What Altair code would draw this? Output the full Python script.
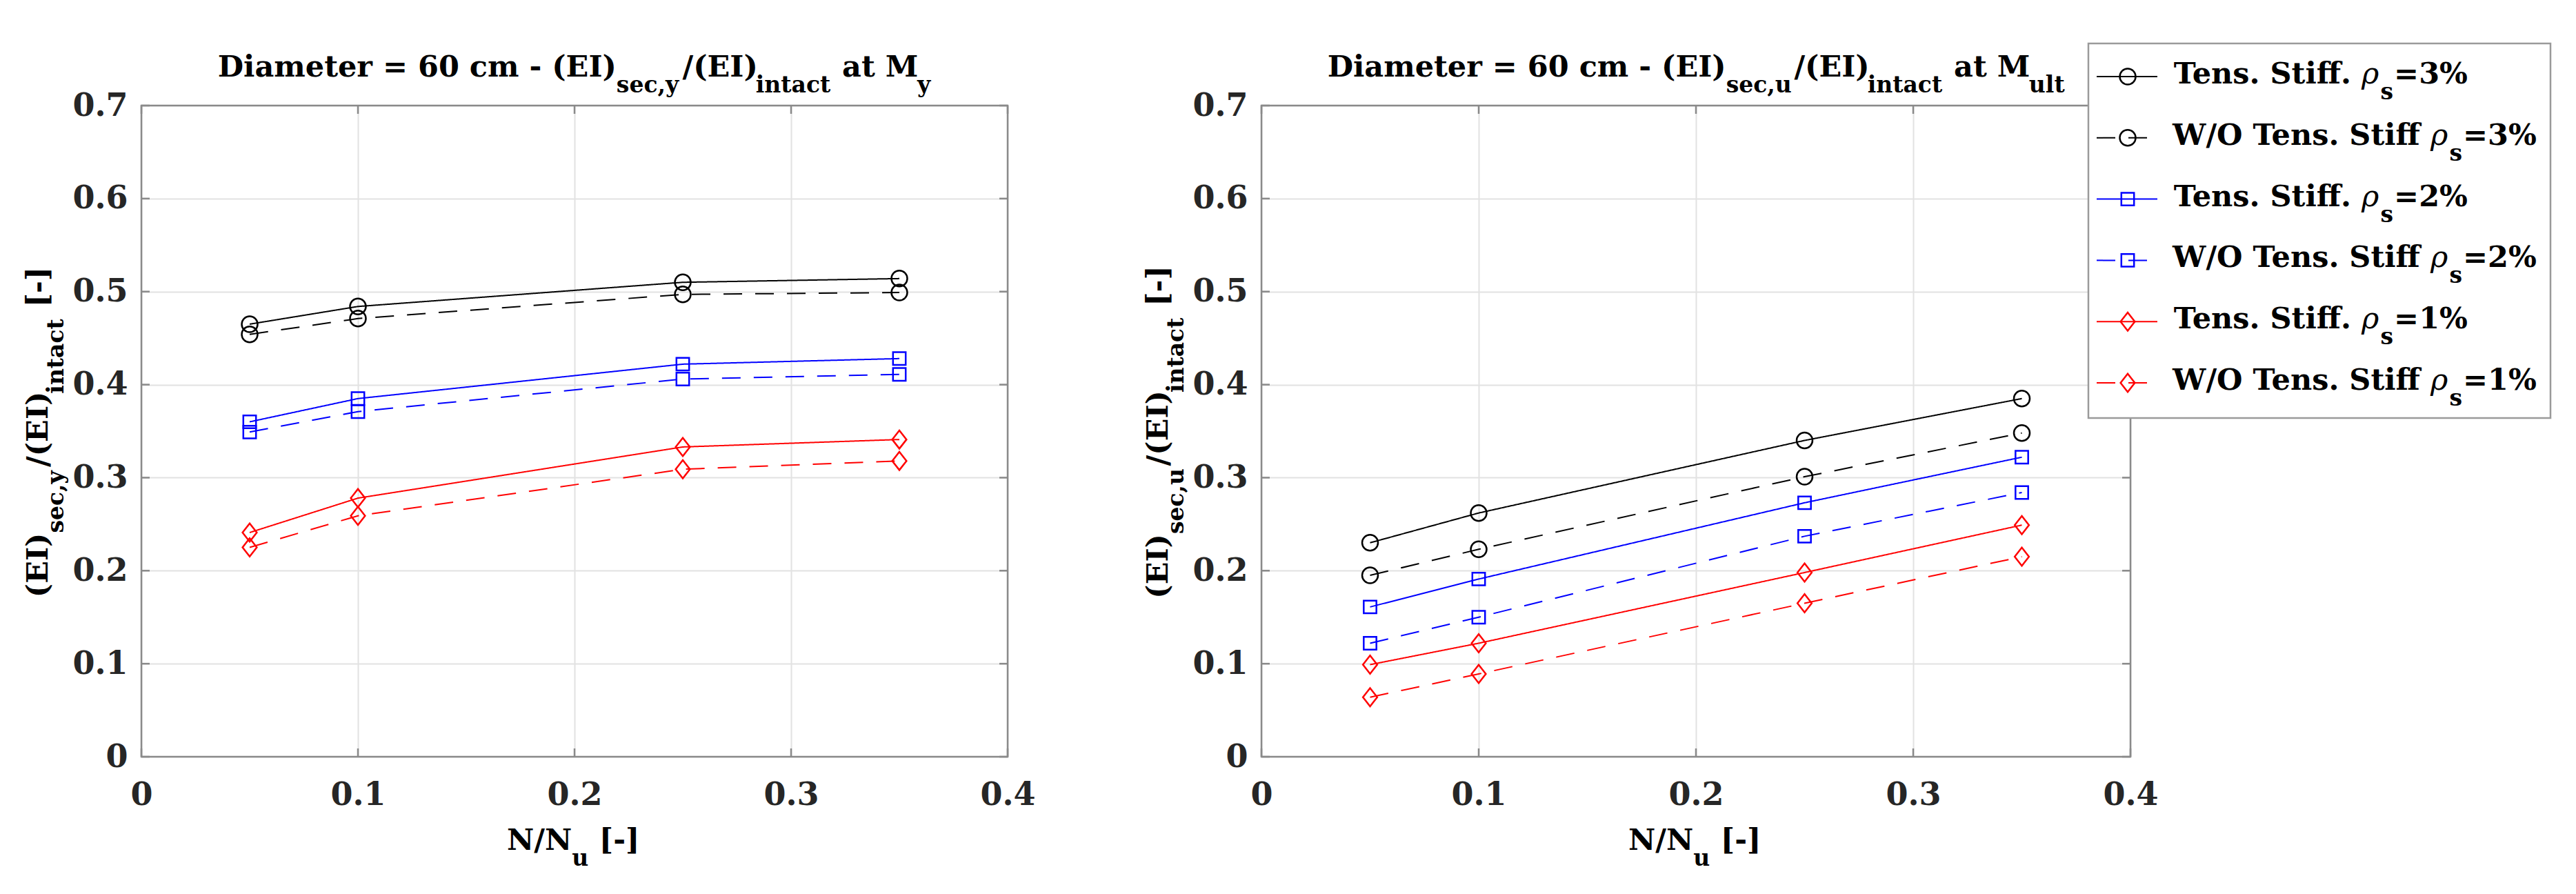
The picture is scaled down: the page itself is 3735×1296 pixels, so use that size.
import altair as alt
import pandas as pd

# ---------------- data ----------------
n_nu = [0.05, 0.10, 0.25, 0.35]

# left panel: (EI)sec,y/(EI)intact at My
my_ts_3 = [0.465, 0.484, 0.510, 0.514]
my_wo_3 = [0.454, 0.471, 0.497, 0.499]
my_ts_2 = [0.360, 0.385, 0.422, 0.428]
my_wo_2 = [0.349, 0.371, 0.406, 0.411]
my_ts_1 = [0.241, 0.278, 0.333, 0.341]
my_wo_1 = [0.225, 0.259, 0.309, 0.318]

# right panel: (EI)sec,u/(EI)intact at Mult
mu_ts_3 = [0.230, 0.262, 0.340, 0.385]
mu_wo_3 = [0.195, 0.223, 0.301, 0.348]
mu_ts_2 = [0.161, 0.191, 0.273, 0.322]
mu_wo_2 = [0.122, 0.150, 0.237, 0.284]
mu_ts_1 = [0.099, 0.122, 0.198, 0.249]
mu_wo_1 = [0.064, 0.089, 0.165, 0.215]

series_keys = ["ts3", "wo3", "ts2", "wo2", "ts1", "wo1"]
legend_prefix = ["Tens. Stiff. ", "W/O Tens. Stiff ", "Tens. Stiff. ",
                 "W/O Tens. Stiff ", "Tens. Stiff. ", "W/O Tens. Stiff "]
legend_pct = ["=3%", "=3%", "=2%", "=2%", "=1%", "=1%"]

x_ticks = [0, 0.1, 0.2, 0.3, 0.4]
y_ticks = [0, 0.1, 0.2, 0.3, 0.4, 0.5, 0.6, 0.7]

# ---------------- styles ----------------
colors = ["#000000", "#000000", "#0000ff", "#0000ff", "#ff0000", "#ff0000"]
SOLID = [1, 0]
DASH = [27, 19]
dashes = [SOLID, DASH, SOLID, DASH, SOLID, DASH]
SQUARE = "M-0.8,-0.8H0.8V0.8H-0.8Z"
DIAMOND = "M0,-1.15L0.9,0L0,1.15L-0.9,0Z"
shapes = ["circle", "circle", SQUARE, SQUARE, DIAMOND, DIAMOND]

FONT = "DejaVu Serif"
MAIN = 43
SUB = 33
SHIFT = 23
TICKFONT = 46
FRAME = "#8a8a8a"
H = 944

# approximate DejaVu Serif Bold advance widths (per 1000 em)
WID = {' ': 348, '%': 1002, '(': 473, ')': 473, ',': 380, '-': 415, '.': 380,
       '/': 365, '=': 838, '[': 473, ']': 473, 'D': 830, 'E': 734, 'I': 427,
       'M': 1030, 'N': 872, 'O': 850, 'S': 720, 'T': 733, 'W': 1141, 'a': 675,
       'c': 593, 'e': 678, 'f': 435, 'i': 375, 'l': 375, 'm': 1058, 'n': 745,
       'r': 557, 's': 595, 't': 478, 'u': 745, 'y': 652, '\u03c1': 640}


def size_of(kind):
    return SUB if kind == 's' else MAIN


def tw(s, kind):
    return sum(WID.get(ch, 696) for ch in s) / 1000.0 * size_of(kind)


dummy = pd.DataFrame({"d": [0]})


def piece(t, kind, x, y, angle=0, align="left"):
    kw = dict(text=t, font=FONT, fontSize=size_of(kind), align=align,
              baseline="alphabetic", color="#000000")
    if kind == 'r':
        kw.update(fontStyle="italic", fontWeight="normal")
    else:
        kw.update(fontWeight="bold")
    if angle:
        kw.update(angle=angle)
    return alt.Chart(dummy).mark_text(**kw).encode(x=alt.value(x), y=alt.value(y))


def htext(pieces, x0, base, center=True):
    total = sum(tw(t, k) for t, k in pieces)
    x = x0 - total / 2.0 if center else x0
    out = []
    for j, (t, k) in enumerate(pieces):
        yb = base + (SHIFT if k == 's' else 0)
        if j == 0:
            # first (long) piece ends exactly where the next one starts
            out.append(piece(t.strip(), k, x + tw(t.rstrip(), k), yb, align="right"))
        else:
            lead = len(t) - len(t.lstrip())
            out.append(piece(t.strip(), k, x + tw(t[:lead], k), yb))
        x += tw(t, k)
    return out


def vtext(pieces, base_x, cy):
    total = sum(tw(t, k) for t, k in pieces)
    y = cy + total / 2.0
    out = []
    for j, (t, k) in enumerate(pieces):
        xb = base_x + (SHIFT if k == 's' else 0)
        if j == 0:
            out.append(piece(t.strip(), k, xb, y - tw(t.rstrip(), k), angle=270,
                             align="right"))
        else:
            lead = len(t) - len(t.lstrip())
            out.append(piece(t.strip(), k, xb, y - tw(t[:lead], k), angle=270))
        y -= tw(t, k)
    return out


def long_df(lists):
    rows = []
    for key, vals in zip(series_keys, lists):
        for xv, yv in zip(n_nu, vals):
            rows.append({"x": xv, "y": yv, "series": key})
    return pd.DataFrame(rows)


xs = alt.Scale(domain=[0, 0.4], nice=False, zero=False)
ys = alt.Scale(domain=[0, 0.7], nice=False, zero=False)

axis_common = dict(title=None, grid=True, gridColor="#e2e2e2", gridWidth=2,
                   ticks=False, tickSize=0, domain=False, labelFont=FONT,
                   labelFontSize=TICKFONT, labelFontWeight="bold",
                   labelColor="#262626", labelOverlap=False, labelFlush=False,
                   format="~g")
ax_x = alt.Axis(values=x_ticks, labelPadding=33, **axis_common)
ax_y = alt.Axis(values=y_ticks, labelPadding=20, **axis_common)


def panel(lists, width, title_pieces, ytitle_pieces, with_legend=False,
          anchor=False):
    df = long_df(lists)
    X = alt.X("x:Q", scale=xs, axis=ax_x)
    Y = alt.Y("y:Q", scale=ys, axis=ax_y)
    col = alt.Color("series:N", scale=alt.Scale(domain=series_keys, range=colors),
                    legend=None)
    dash = alt.StrokeDash("series:N",
                          scale=alt.Scale(domain=series_keys, range=dashes),
                          legend=None)
    shp = alt.Shape("series:N", scale=alt.Scale(domain=series_keys, range=shapes),
                    legend=None)

    layers = []
    xt = pd.DataFrame({"x": x_ticks})
    yt = pd.DataFrame({"y": y_ticks})
    layers.append(alt.Chart(xt).mark_rule(color=FRAME, strokeWidth=2.5).encode(
        x=X, y=alt.value(H), y2=alt.value(H - 12)))
    layers.append(alt.Chart(xt).mark_rule(color=FRAME, strokeWidth=2.5).encode(
        x=X, y=alt.value(0), y2=alt.value(12)))
    layers.append(alt.Chart(yt).mark_rule(color=FRAME, strokeWidth=2.5).encode(
        y=Y, x=alt.value(0), x2=alt.value(12)))
    layers.append(alt.Chart(yt).mark_rule(color=FRAME, strokeWidth=2.5).encode(
        y=Y, x=alt.value(width), x2=alt.value(width - 12)))

    base = alt.Chart(df)
    layers.append(base.mark_line(strokeWidth=2).encode(
        x=X, y=Y, color=col, strokeDash=dash))
    layers.append(base.mark_point(filled=False, strokeWidth=2.5, size=529,
                                  opacity=1).encode(x=X, y=Y, color=col, shape=shp))

    layers.append(alt.Chart(dummy).mark_rect(fillOpacity=0, stroke=FRAME,
                                             strokeWidth=2.5).encode(
        x=alt.value(0), x2=alt.value(width), y=alt.value(0), y2=alt.value(H)))

    layers += htext(title_pieces, width / 2.0, -42)
    layers += htext([("N/N", 'm'), ("u", 's'), (" [-]", 'm')], width / 2.0, 1079)
    layers += vtext(ytitle_pieces, -136, 472)

    if anchor:
        layers.append(alt.Chart(dummy).mark_rule(strokeOpacity=0, color="white").encode(
            x=alt.value(-196), y=alt.value(-144), y2=alt.value(-140)))

    if with_legend:
        layers.append(alt.Chart(dummy).mark_rect(fill="white", stroke="#9a9a9a",
                                                 strokeWidth=2.5).encode(
            x=alt.value(1199), x2=alt.value(1869), y=alt.value(-90),
            y2=alt.value(453)))
        for i in range(len(series_keys)):
            cy = -42 + i * 88.8
            x_end = 1299 if dashes[i] == SOLID else 1285
            layers.append(alt.Chart(dummy).mark_rule(
                color=colors[i], strokeWidth=2, strokeDash=dashes[i]).encode(
                x=alt.value(1211), x2=alt.value(x_end), y=alt.value(cy)))
            layers.append(alt.Chart(dummy).mark_point(
                shape=shapes[i], size=529, filled=False, color=colors[i],
                strokeWidth=2.5, opacity=1).encode(x=alt.value(1256), y=alt.value(cy)))
            layers += htext([(legend_prefix[i], 'm'), ("\u03c1", 'r'), ("s", 's'),
                             (legend_pct[i], 'm')], 1309, cy + 10, center=False)

    return alt.layer(*layers).properties(width=width, height=H)


left = panel(
    [my_ts_3, my_wo_3, my_ts_2, my_wo_2, my_ts_1, my_wo_1], 1256,
    [("Diameter = 60 cm - (EI)", 'm'), ("sec,y", 's'), ("/(EI)", 'm'),
     ("intact", 's'), (" at M", 'm'), ("y", 's')],
    [("(EI)", 'm'), ("sec,y", 's'), ("/(EI)", 'm'), ("intact", 's'), (" [-]", 'm')],
    anchor=True)

right = panel(
    [mu_ts_3, mu_wo_3, mu_ts_2, mu_wo_2, mu_ts_1, mu_wo_1], 1260,
    [("Diameter = 60 cm - (EI)", 'm'), ("sec,u", 's'), ("/(EI)", 'm'),
     ("intact", 's'), (" at M", 'm'), ("ult", 's')],
    [("(EI)", 'm'), ("sec,u", 's'), ("/(EI)", 'm'), ("intact", 's'), (" [-]", 'm')],
    with_legend=True)

chart = alt.hconcat(left, right, spacing=368, bounds="flush").properties(
    padding=0, background="white"
).configure_view(stroke="transparent")

chart.save("out.html", embed_options={"renderer": "svg", "actions": False})
